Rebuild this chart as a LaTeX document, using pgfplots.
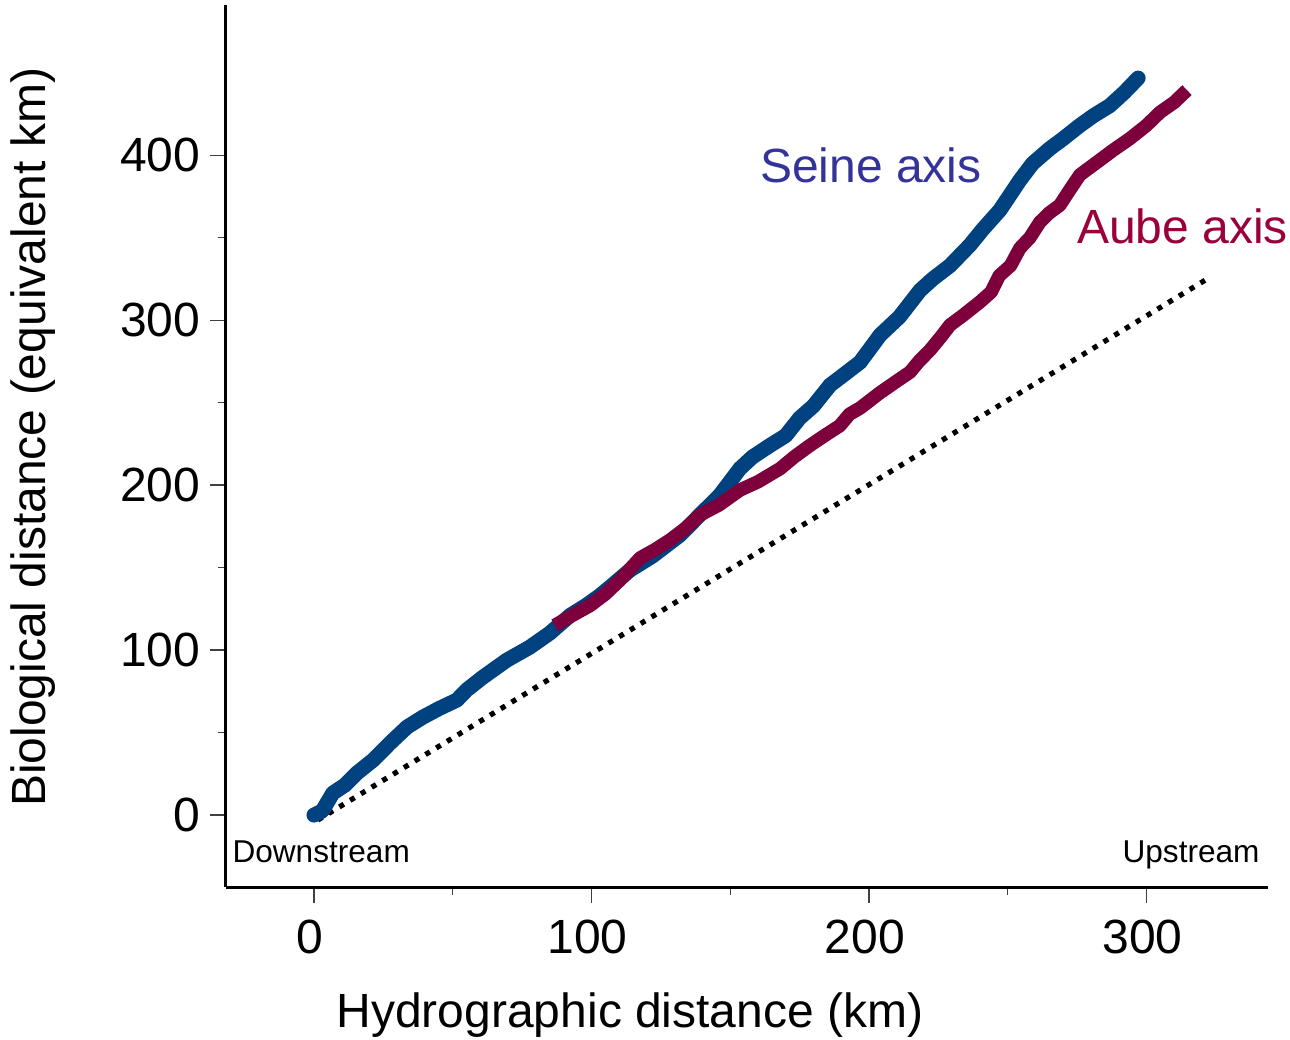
\documentclass[border=0pt]{standalone}
\usepackage{fontspec}
\setmainfont{Liberation Sans}
\usepackage{pgfplots}
\pgfplotsset{compat=1.18}

\definecolor{seine}{RGB}{0,66,128}
\definecolor{aube}{RGB}{125,0,60}
\definecolor{seinetxt}{RGB}{51,51,153}
\definecolor{aubetxt}{RGB}{153,0,60}

\newcommand{\bigfnt}{\fontsize{24}{28}\selectfont}
\newcommand{\smallfnt}{\fontsize{15.8}{19}\selectfont}

\begin{document}
\begin{tikzpicture}
\begin{axis}[
    scale only axis,
    width=521pt, height=441pt,
    xmin=-31.7, xmax=343.8,
    ymin=-43.6, ymax=491,
    axis x line=bottom, axis y line=left,
    axis line style={-, line width=1.5pt, black},
    xtick={0,100,200,300}, ytick={0,100,200,300,400},
    minor tick num=1,
    tick align=outside,
    major tick length=7.75pt, minor tick length=4pt,
    tick style={black!75, line width=0.6pt},
    /pgf/number format/assume math mode=true,
    tick label style={font=\bigfnt},
    xticklabel style={inner sep=0pt, yshift=-8.5pt, xshift=-2pt},
    yticklabel style={inner sep=0pt, xshift=-5pt},
    clip=false,
]
% dotted 1:1 reference
\addplot[black, line width=2.6pt, dash pattern=on 2.6pt off 3.7pt] coordinates {(1.4,-3) (322.9,326)};

% Seine axis
\addplot[seine, line width=7.5pt, line cap=round, line join=round] coordinates {
(0,0) (3,2.5) (6.8,13.3) (11.2,18.2) (15.5,25.5) (21.3,33.3) (27.4,43.6) (33.5,53.3)
(39.3,59.4) (45,64.5) (51.5,69.7) (55,75.8) (60.9,83.6) (69.5,93.9) (77.8,101.8)
(85,110.3) (92.3,121) (98,127) (103,133) (108,140) (113.9,148.5) (122,157)
(131.9,169.7) (139,181.8) (146.3,194) (153.5,210) (158,217) (164.3,224) (170,230)
(175,240.6) (180,248) (186,260.6) (191,267) (196.8,274.5) (204,290.9) (211,302)
(218.4,318) (223,325) (229.2,333) (236.4,345.5) (241,355) (247.2,366.7) (254.4,384.8)
(259,395) (265.2,404) (270,410) (276,418) (281,424) (286.8,430) (292,438) (297,446.7)
};

% Aube axis
\addplot[aube, line width=6.75pt, line cap=butt, line join=round] coordinates {
(86.8,115) (92,120) (99.5,127) (105,134) (110,142) (117.5,155.8) (123,161)
(128.3,166.7) (134,174) (139,181.8) (146,188) (153.5,197) (160,202) (168,210)
(173,217) (178.7,224) (184,230) (189.5,236) (193,243) (196.8,246.7) (204,256)
(210,263) (214.8,268.5) (218,275) (222,281.8) (226,290) (229.2,297) (234,303)
(240,311) (244,317) (247,327) (251,333) (254.4,343.6) (258,350) (261.6,359.4)
(265,365) (268.8,369.7) (272,378) (276,388) (280,393) (283.2,397) (288,403)
(294,410) (300,418) (304.9,426) (310,432) (314.6,439.4)
};

\node[anchor=base, text=seinetxt, font=\bigfnt, inner sep=0pt] at (axis cs:200.7,383.6) {Seine axis};
\node[anchor=base, text=aubetxt, font=\bigfnt, inner sep=0pt] at (axis cs:313,346.7) {Aube axis};
\node[anchor=base west, font=\smallfnt, inner sep=0pt] at (axis cs:-29.5,-28.5) {Downstream};
\node[anchor=base east, font=\smallfnt, inner sep=0pt] at (axis cs:340.9,-28.5) {Upstream};
\node[anchor=base, font=\bigfnt, inner sep=0pt] at (axis cs:113.9,-129) {Hydrographic distance (km)};
\node[anchor=base, rotate=90, font=\bigfnt, inner sep=0pt] at (axis cs:-96.9,229) {Biological distance (equivalent km)};
\end{axis}
\pgfresetboundingbox
\path[use as bounding box] (-113pt,-76pt) rectangle (532pt,443.5pt);
\end{tikzpicture}
\end{document}
